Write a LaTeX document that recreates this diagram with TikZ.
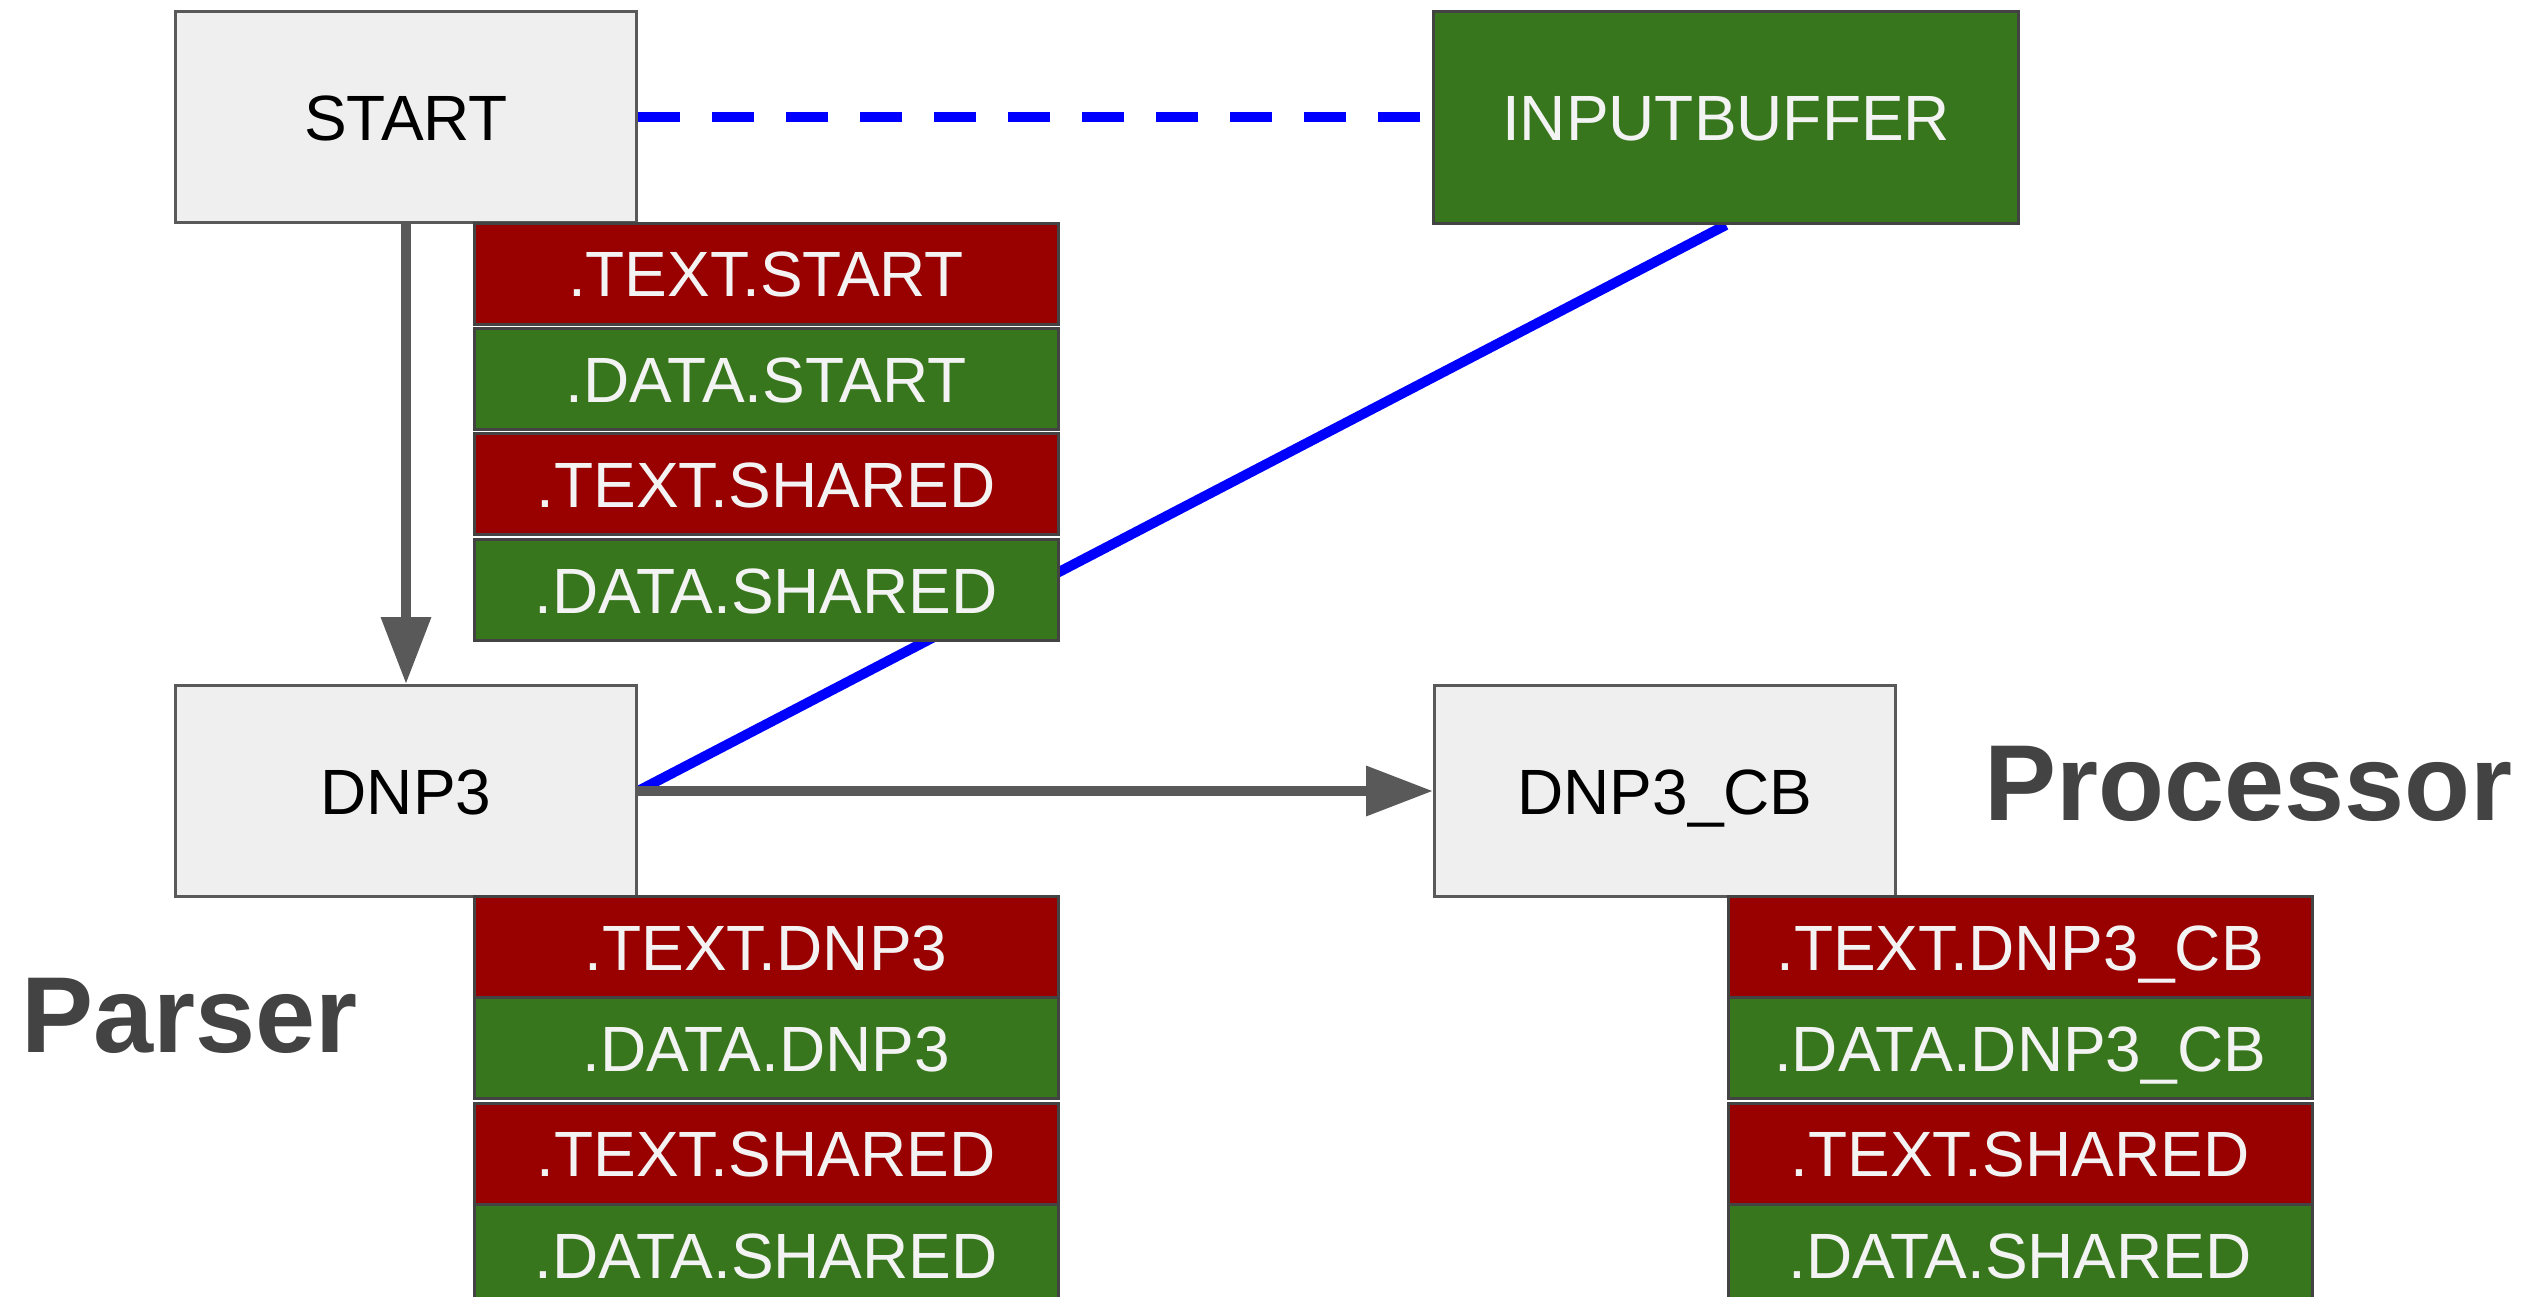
\documentclass[tikz,border=0pt]{standalone}
\usepackage{fontspec}
\setmainfont{Liberation Sans}
\usetikzlibrary{arrows.meta,backgrounds}
\definecolor{boxfill}{HTML}{EFEFEF}
\definecolor{boxline}{HTML}{595959}
\definecolor{redrow}{HTML}{990000}
\definecolor{greenrow}{HTML}{38761D}
\definecolor{rowline}{HTML}{434343}
\definecolor{rowtext}{HTML}{F3F3F3}
\definecolor{labelgray}{HTML}{434343}
\definecolor{linkblue}{HTML}{0000FF}
\begin{document}
\begin{tikzpicture}[x=1pt,y=-1pt,
  boxtext/.style={font=\fontsize{64}{77}\selectfont, text height=46pt, text depth=0pt, inner sep=0pt},
  box/.style={boxtext, draw=boxline, line width=3pt, fill=boxfill, text=black, minimum width=461pt, minimum height=211pt},
  rowbox/.style={boxtext, draw=rowline, line width=3pt, text=rowtext, minimum width=584pt, minimum height=101pt},
  textrow/.style={rowbox, fill=redrow},
  datarow/.style={rowbox, fill=greenrow},
  bufbox/.style={boxtext, draw=rowline, line width=3pt, fill=greenrow, text=rowtext, minimum width=585pt, minimum height=212pt},
  grouplabel/.style={font=\fontsize{108}{130}\selectfont\bfseries, text=labelgray, inner sep=0pt, anchor=base west},
  grayarrow/.style={draw=boxline, line width=10pt, -{Triangle[length=67pt,width=48pt]}},
  bluelink/.style={draw=linkblue, line width=10pt}
]
\useasboundingbox (0,0) rectangle (2544,1297);

% main boxes
\node[box] (start) at (406,117.5) {START};
\node[bufbox] (buf) at (1726,117.5) {INPUTBUFFER};
\node[box] (dnp) at (406,791) {DNP3};
\node[box] (cb) at (1665,791) {DNP3\_CB};

% START sections
\node[textrow] (s1) at (766,274) {.TEXT.START};
\node[datarow] (s2) at (766,379) {.DATA.START};
\node[textrow] (s3) at (766,484) {.TEXT.SHARED};
\node[datarow] (s4) at (766,590) {.DATA.SHARED};

% Parser sections
\node[textrow] (p1) at (766,947) {.TEXT.DNP3};
\node[datarow] (p2) at (766,1048) {.DATA.DNP3};
\node[textrow] (p3) at (766,1153.5) {.TEXT.SHARED};
\node[datarow] (p4) at (766,1255) {.DATA.SHARED};

% Processor sections
\node[textrow] (q1) at (2020,947) {.TEXT.DNP3\_CB};
\node[datarow] (q2) at (2020,1048) {.DATA.DNP3\_CB};
\node[textrow] (q3) at (2020,1153.5) {.TEXT.SHARED};
\node[datarow] (q4) at (2020,1255) {.DATA.SHARED};

% group labels
\node[grouplabel] (parser) at (21,1052) {Parser};
\node[grouplabel] (proc) at (1984,820) {Processor};

% connectors
\begin{scope}[on background layer]
  \draw[bluelink] (buf.south) -- (dnp.east);
\end{scope}
\draw[bluelink, dash pattern=on 42pt off 32pt] (start.east) -- (buf.west);
\draw[grayarrow] (start) -- (dnp);
\draw[grayarrow] (dnp) -- (cb);
\end{tikzpicture}
\end{document}
